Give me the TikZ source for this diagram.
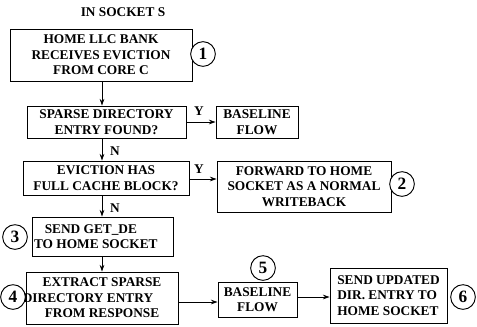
\documentclass[tikz,border=0pt]{standalone}
\usepackage{fontspec}
\setmainfont{Liberation Serif}
\usetikzlibrary{arrows.meta}
\usetikzlibrary{calc}

\begin{document}
\begin{tikzpicture}[x=0.75pt, y=-0.75pt, font=\bfseries\fontsize{10}{11.6}\selectfont,
        box_style/.style={draw=black, line width=0.7pt, inner sep=0pt, align=center},
        num_style/.style={circle, draw=black, line width=0.7pt, fill=white, minimum size=18.5pt, inner sep=0pt, font=\bfseries\fontsize{13}{13}\selectfont},
        edge_style/.style={draw=black, line width=0.6pt, -{Stealth[length=5pt, width=3.5pt]}},
        label_style/.style={inner sep=0pt, font=\bfseries\fontsize{10}{10}\selectfont}]

        \useasboundingbox (0,0) rectangle (477,326);

        \node (title) at (123,12) {IN SOCKET S};
        \coordinate (spine) at (102,0);

        \node [box_style, minimum width=136.5pt, minimum height=39pt](home) at (101,55) {HOME LLC BANK\\RECEIVES EVICTION\\FROM CORE C};
        \node [box_style, minimum width=119.25pt, minimum height=24pt](sparse) at (106.5,122) {SPARSE DIRECTORY\\ENTRY FOUND?};
        \node [box_style, minimum width=61.5pt, minimum height=24pt](base1) at (257,122) {BASELINE\\FLOW};
        \node [box_style, minimum width=124.5pt, minimum height=25.5pt](evict) at (106,178) {EVICTION HAS\\FULL CACHE BLOCK?};
        \node [box_style, minimum width=130.5pt, minimum height=38.25pt](fwd) at (304,186.5) {FORWARD TO HOME\\SOCKET AS A NORMAL\\WRITEBACK};
        \node [box_style, align=left, minimum width=105.75pt, minimum height=29.25pt](getde) at (102.5,236.5) {\hspace*{8pt}SEND GET\_DE\\TO HOME SOCKET\hspace*{10pt}};
        \node [box_style, minimum width=114pt, minimum height=39pt](extract) at (102,298) {EXTRACT SPARSE\\\hspace*{-21pt}DIRECTORY ENTRY\\FROM RESPONSE};
        \node [box_style, minimum width=59.25pt, minimum height=26.25pt](base2) at (257.5,299.5) {BASELINE\\FLOW};
        \node [box_style, align=left, minimum width=87.75pt, minimum height=41.25pt](send) at (388.5,295.5) {SEND UPDATED\\DIR. ENTRY TO\\HOME SOCKET};

        \node [num_style](c1) at (203,54) {1};
        \node [num_style](c2) at (402,184) {2};
        \node [num_style](c3) at (15,237) {3};
        \node [num_style](c4) at (13,297) {4};
        \node [num_style](c5) at (263,268) {5};
        \node [num_style](c6) at (463,297) {6};

        \draw [edge_style] (home.south -| spine) -- (sparse.north -| spine);
        \draw [edge_style] (sparse.south -| spine) -- (evict.north -| spine);
        \draw [edge_style] (evict.south -| spine) -- (getde.north -| spine);
        \draw [edge_style] (getde.south -| spine) -- (extract.north -| spine);
        \draw [edge_style] (sparse.east) -- (base1.west);
        \draw [edge_style] ($(evict.east)+(0,1)$) -- ($(evict.east -| fwd.west)+(0,1)$);
        \draw [edge_style] ($(extract.east)+(0,4)$) -- ($(extract.east -| base2.west)+(0,4)$);
        \draw [edge_style] ($(base2.east)+(0,-2.5)$) -- ($(base2.east -| send.west)+(0,-2.5)$);

        \node [label_style](y1) at (199,111) {Y};
        \node [label_style](y2) at (199,169) {Y};
        \node [label_style](n1) at (115,151) {N};
        \node [label_style](n2) at (115,208) {N};
\end{tikzpicture}
\end{document}
